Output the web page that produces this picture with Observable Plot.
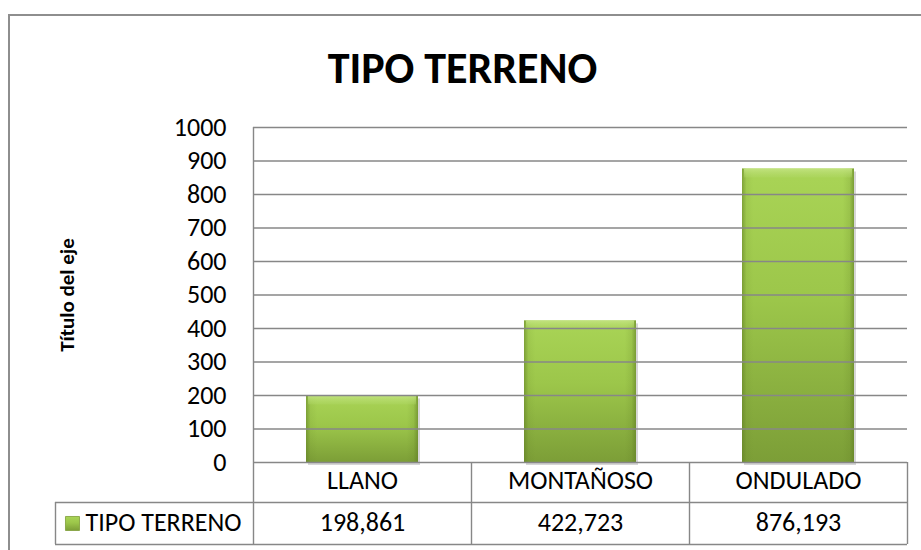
<!DOCTYPE html>
<html>
<head>
<meta charset="utf-8">
<script src="https://cdn.jsdelivr.net/npm/d3@7"></script>
<script src="https://cdn.jsdelivr.net/npm/@observablehq/plot@0.6"></script>
<style>
  html, body { margin: 0; padding: 0; background: #fff; }
  #wrap { position: relative; width: 921px; height: 550px; overflow: hidden; }
  #border { position: absolute; left: 8px; top: 14px; width: 1000px; height: 1000px;
            border-left: 2px solid #8e8e8e; border-top: 2px solid #8e8e8e; }
  #chart { position: absolute; left: 0; top: 0; }
</style>
</head>
<body>
<div id="wrap"><div id="border"></div><div id="chart"></div></div>
<script>
// ---- data ----
const title = "TIPO TERRENO";
const seriesName = "TIPO TERRENO";
const axisTitle = "Título del eje";
const categories = ["LLANO", "MONTAÑOSO", "ONDULADO"];
const values = [198.861, 422.723, 876.193];
const yTicks = [0, 100, 200, 300, 400, 500, 600, 700, 800, 900, 1000];

const data = categories.map((c, i) => ({cat: c, value: values[i]}));
const fmt = v => v.toFixed(3).replace(".", ",");

// ---- layout ----
const W = 921, H = 550;
const mt = 127, ml = 253, mr = 14, mb = 88;
const bw = (W - ml - mr) / categories.length;
const font = "Carlito, Lato, 'Open Sans', sans-serif";
const grid = "#878787";
const fs = 26;

const chart = Plot.plot({
  width: W, height: H,
  marginTop: mt, marginLeft: ml, marginRight: mr, marginBottom: mb,
  style: {fontFamily: font, fontSize: fs + "px", color: "#000", background: "transparent", overflow: "visible"},
  x: {type: "band", domain: categories, padding: 0, label: null},
  y: {domain: [0, 1000], label: null},
  marks: [
    // shadow
    Plot.barY(data, {x: "cat", y: "value", insetLeft: 53, insetRight: 53, dx: 2, dy: 3, fill: "#000", fillOpacity: 0.16}),
    // bars
    Plot.barY(data, {x: "cat", y: "value", insetLeft: 53, insetRight: 53, fill: "url(#gV)"}),
    Plot.barY(data, {x: "cat", y: "value", insetLeft: 53, insetRight: 53, fill: "url(#gH)"}),
    // top bevel
    Plot.barY(data, {x: "cat", y1: "value", y2: "value", insetLeft: 55, insetRight: 55, insetBottom: -9, fill: "url(#gT)"}),
    // gridlines (over bars)
    Plot.ruleY(yTicks, {stroke: grid, strokeWidth: 1.4}),
    // y axis line extending through the table
    Plot.ruleX(categories.slice(0, 1), {x: d => d, dx: -bw / 2, insetBottom: -82, stroke: grid, strokeWidth: 1.4}),
    // table vertical lines
    Plot.ruleX(categories, {x: d => d, dx: bw / 2, y1: 0, y2: 0, insetBottom: -82, stroke: grid, strokeWidth: 1.4}),
    Plot.ruleX(categories.slice(0, 1), {x: d => d, dx: -bw / 2 - 198, y1: 0, y2: 0, insetTop: 40, insetBottom: -82, stroke: grid, strokeWidth: 1.4}),
    // table horizontal lines
    Plot.ruleY([0], {dy: 40, insetLeft: -198, stroke: grid, strokeWidth: 1.4}),
    Plot.ruleY([0], {dy: 82, insetLeft: -198, stroke: grid, strokeWidth: 1.4}),
    // axes
    Plot.axisY(yTicks, {tickSize: 0, tickPadding: 27, fontSize: fs, tickFormat: d => String(d), label: null}),
    Plot.axisX({tickSize: 0, tickPadding: 8, fontSize: fs, label: null}),
    // values row
    Plot.text(data, {x: "cat", frameAnchor: "bottom", lineAnchor: "middle", dy: 60, text: d => fmt(d.value), fontSize: fs}),
    // legend key + label
    Plot.dot([seriesName], {frameAnchor: "bottom-left", dx: -181, dy: 61, symbol: "square", r: 7.9, fill: "url(#gV)", stroke: "#7d9d36", strokeWidth: 0.8}),
    Plot.text([seriesName], {frameAnchor: "bottom-left", lineAnchor: "middle", dx: -168, dy: 60, text: d => d, textAnchor: "start", fontSize: fs}),
    // axis title
    Plot.text([axisTitle], {frameAnchor: "left", dx: -186, rotate: -90, textAnchor: "middle", lineAnchor: "middle", text: d => d, fontWeight: "bold", fontSize: 21}),
    // chart title
    Plot.text([title], {frameAnchor: "top", dx: -118, dy: -76, text: d => d, fontWeight: "bold", fontSize: 44})
  ]
});

const svg = d3.select(chart);
const defs = svg.insert("defs", ":first-child");
const gV = defs.append("linearGradient").attr("id", "gV").attr("x1", 0).attr("y1", 0).attr("x2", 0).attr("y2", 1);
gV.append("stop").attr("offset", "0%").attr("stop-color", "#a9d456");
gV.append("stop").attr("offset", "45%").attr("stop-color", "#9cc64a");
gV.append("stop").attr("offset", "100%").attr("stop-color", "#7c9e37");
const gH = defs.append("linearGradient").attr("id", "gH").attr("x1", 0).attr("y1", 0).attr("x2", 1).attr("y2", 0);
gH.append("stop").attr("offset", "0%").attr("stop-color", "#5d7a22").attr("stop-opacity", 0.55);
gH.append("stop").attr("offset", "4%").attr("stop-color", "#5d7a22").attr("stop-opacity", 0.1);
gH.append("stop").attr("offset", "10%").attr("stop-color", "#5d7a22").attr("stop-opacity", 0);
gH.append("stop").attr("offset", "90%").attr("stop-color", "#5d7a22").attr("stop-opacity", 0);
gH.append("stop").attr("offset", "96%").attr("stop-color", "#5d7a22").attr("stop-opacity", 0.15);
gH.append("stop").attr("offset", "100%").attr("stop-color", "#5d7a22").attr("stop-opacity", 0.6);
const gT = defs.append("linearGradient").attr("id", "gT").attr("x1", 0).attr("y1", 0).attr("x2", 0).attr("y2", 1);
gT.append("stop").attr("offset", "0%").attr("stop-color", "#c4e483").attr("stop-opacity", 0.9);
gT.append("stop").attr("offset", "100%").attr("stop-color", "#b2d96a").attr("stop-opacity", 0.3);

document.getElementById("chart").appendChild(chart);
</script>
</body>
</html>
